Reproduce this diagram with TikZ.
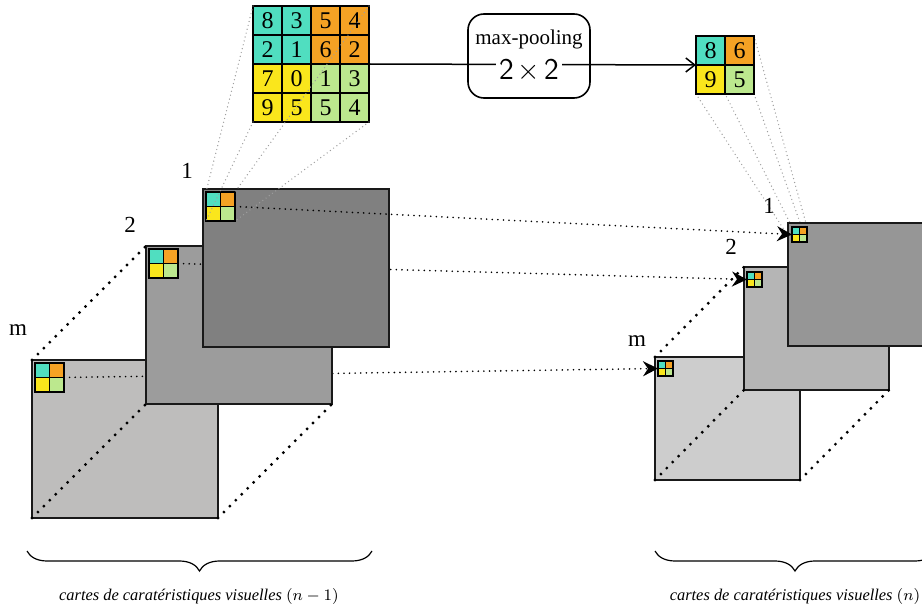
\documentclass[tikz,border=0pt]{standalone}
\usepackage{fontspec}
\setmainfont{Liberation Serif}
\usetikzlibrary{arrows.meta,calc,decorations.pathreplacing,backgrounds}

\definecolor{cteal}{RGB}{80,222,192}
\definecolor{corange}{RGB}{245,162,36}
\definecolor{cyellow}{RGB}{250,230,28}
\definecolor{cgreen}{RGB}{188,232,142}
\definecolor{mapLm}{RGB}{190,189,188}
\definecolor{mapLtwo}{RGB}{156,156,156}
\definecolor{mapLone}{RGB}{128,128,128}
\definecolor{mapRm}{RGB}{205,205,205}
\definecolor{mapRtwo}{RGB}{181,181,181}
\definecolor{mapRone}{RGB}{150,150,150}

% 2x2 coloured window: name, x, y (top-left), cell size, cell style
\newcommand\mkminigrid[5]{%
  \foreach \r/\c/\col in {1/1/cteal,1/2/corange,2/1/cyellow,2/2/cgreen}
    \node[#5, fill=\col, minimum size={#4*0.5pt}] (#1-\r-\c) at ({#2+(\c-1)*#4},{#3+(\r-1)*#4}) {};%
}

\begin{document}
\begin{tikzpicture}[x=0.5pt,y=-0.5pt,
  mapbox/.style={draw=black!90,line width=0.9pt,anchor=north west,inner sep=0pt,outer sep=0pt},
  leftmap/.style={mapbox,minimum width=93pt,minimum height=79pt},
  rightmap/.style={mapbox,minimum width=72.5pt,minimum height=61.5pt},
  bigcell/.style={draw,line width=0.9pt,minimum size=14.5pt,inner sep=0pt,outer sep=0pt,anchor=north west,font=\fontsize{12}{14}\selectfont},
  lcell/.style={draw,line width=0.8pt,inner sep=0pt,outer sep=0pt,anchor=north west},
  rcell/.style={draw,line width=0.55pt,inner sep=0pt,outer sep=0pt,anchor=north west},
  fdots/.style={line width=0.9pt,dash pattern=on 0pt off 2.8pt,line cap=round},
  tdots/.style={line width=1.6pt,dash pattern=on 0pt off 4.2pt,line cap=round},
  projdots/.style={draw=black!38,line width=0.7pt,dash pattern=on 0pt off 2pt,line cap=round},
  flow/.style={fdots,-{Stealth[length=7.5pt,width=7.5pt,inset=2.5pt]}},
  lab/.style={font=\fontsize{11.5}{13}\selectfont,inner sep=0pt},
  capt/.style={font=\fontsize{8.2}{10}\selectfont\itshape},
  bracket/.style={decorate,decoration={brace,mirror,amplitude=10pt},line width=0.6pt}]
\useasboundingbox (0,0) rectangle (922,609);

% pooled output window
\foreach \r/\c/\v/\col in {1/1/8/cteal,1/2/6/corange,2/1/9/cyellow,2/2/5/cgreen}
  \node[bigcell,fill=\col] (o-\r-\c) at ({696+(\c-1)*29},{36+(\r-1)*29}) {\v};

% 4x4 input window
\foreach \r/\c/\v/\col in {1/1/8/cteal,1/2/3/cteal,1/3/5/corange,1/4/4/corange,
                           2/1/2/cteal,2/2/1/cteal,2/3/6/corange,2/4/2/corange,
                           3/1/7/cyellow,3/2/0/cyellow,3/3/1/cgreen,3/4/3/cgreen,
                           4/1/9/cyellow,4/2/5/cyellow,4/3/5/cgreen,4/4/4/cgreen}
  \node[bigcell,fill=\col] (b-\r-\c) at ({253+(\c-1)*29},{6+(\r-1)*29}) {\v};

% pooling operation
\draw[line width=0.75pt,-{Straight Barb[length=4.5pt,width=7pt]}] (b-2-4.south east) -- (o-1-1.south west);
\node[draw,rounded corners=8pt,line width=0.8pt,minimum width=61pt,minimum height=42pt] (pool) at (529,56) {};
\node[font=\fontsize{10.5}{12}\selectfont] (pooltitle) at (529,39) {max-pooling};
\node[fill=white,inner sep=1.5pt,font=\fontsize{15}{18}\selectfont] (poolsize) at (529,71) {\textsf{2}\kern2pt$\times$\kern2pt\textsf{2}};

% layer n maps
\node[rightmap,fill=mapRm] (Rm) at (655,357) {};
\mkminigrid{Rmg}{658}{361}{7.5}{rcell}
\node[rightmap,fill=mapRtwo] (Rtwo) at (744,267) {};
\mkminigrid{Rtwog}{747}{272}{7.5}{rcell}
\node[rightmap,fill=mapRone] (Rone) at (788,223) {};
\mkminigrid{Roneg}{792}{227}{7.5}{rcell}

\draw[tdots] (Rm.north west) -- (Rtwo.north west);
\draw[tdots] (Rm.south west) -- (Rtwo.south west);
\draw[tdots] (Rm.south east) -- (Rtwo.south east);

\begin{pgfonlayer}{background}
  \draw[projdots] (o-1-1.north west) -- (Roneg-1-1.north west);
  \draw[projdots] (o-1-2.north east) -- (Roneg-1-2.north east);
  \draw[projdots] (o-2-1.south west) -- (Roneg-2-1.south west);
  \draw[projdots] (o-2-2.south east) -- (Roneg-2-2.south east);
\end{pgfonlayer}

% layer n-1 maps, each flow drawn before the map that hides it
\node[leftmap,fill=mapLm] (Lm) at (32,360) {};
\mkminigrid{Lmg}{35}{363}{14.5}{lcell}
\draw[flow] (Lmg-1-2.south east) -- (Rmg-1-1.south west);
\node[leftmap,fill=mapLtwo] (Ltwo) at (146,246) {};
\mkminigrid{Ltwog}{149}{249}{14.5}{lcell}
\draw[flow] (Ltwog-1-2.south east) -- (Rtwog-1-1.south west);
\node[leftmap,fill=mapLone] (Lone) at (203,189) {};
\mkminigrid{Loneg}{206}{192}{14.5}{lcell}
\draw[flow] (Loneg-1-2.south east) -- (Roneg-1-1.south west);

\draw[tdots] (Lm.north west) -- (Ltwo.north west);
\draw[tdots] (Lm.south west) -- (Ltwo.south west);
\draw[tdots] (Lm.south east) -- (Ltwo.south east);

% receptive field of the first map
\draw[projdots] (b-1-1.north west) -- (Loneg-1-1.north west);
\draw[projdots] (b-1-4.north east) -- (Loneg-1-2.north east);
\draw[projdots] (b-4-1.south west) -- (Loneg-2-1.south west);
\draw[projdots] (b-4-4.south east) -- (Loneg-2-2.south east);

% map indices
\node[lab] (nLone) at ($(Lone.north west)+(-16,-18)$) {1};
\node[lab] (nLtwo) at ($(Ltwo.north west)+(-16,-21)$) {2};
\node[lab] (nLm) at ($(Lm.north west)+(-14,-30)$) {m};
\node[lab] (nRone) at ($(Rone.north west)+(-19,-17)$) {1};
\node[lab] (nRtwo) at ($(Rtwo.north west)+(-13,-20)$) {2};
\node[lab] (nRm) at ($(Rm.north west)+(-18,-16)$) {m};

% braces and captions
\coordinate (bLa) at (27,551);
\coordinate (bLb) at (372,551);
\coordinate (bRa) at (655,551);
\coordinate (bRb) at (935,551);
\draw[bracket] (bLa) -- (bLb);
\draw[bracket] (bRa) -- (bRb);
\node[capt] (capL) at (199,596) {cartes de caratéristiques visuelles $(n-1)$};
\node[capt] (capR) at (795,596) {cartes de caratéristiques visuelles $(n)$};
\end{tikzpicture}
\end{document}
